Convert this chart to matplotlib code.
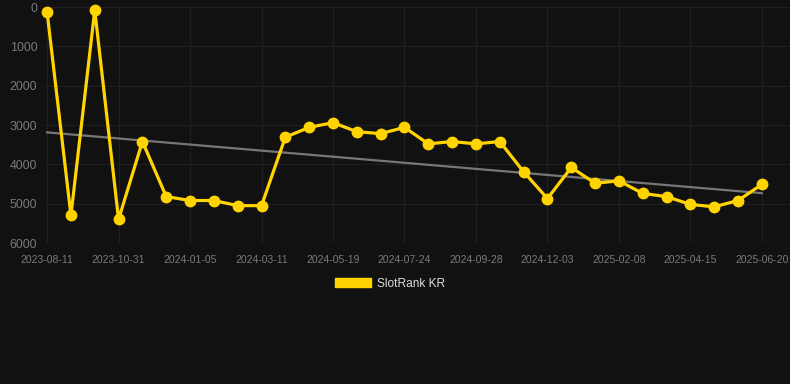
import matplotlib
matplotlib.use("Agg")
from matplotlib import pyplot as plt
from matplotlib.patches import Patch
import numpy as np

plt.rcParams['font.family'] = ['Liberation Sans', 'DejaVu Sans']

# rank per sample (smaller = better, axis inverted)
ranks = [130, 5300, 80, 5400, 3420, 4820, 4920, 4920, 5050, 5050,
         3310, 3060, 2940, 3170, 3220, 3060, 3480, 3420, 3480, 3420,
         4190, 4870, 4080, 4480, 4420, 4740, 4820, 5020, 5080, 4920, 4510]
tick_labels = ['2023-08-11', '2023-10-31', '2024-01-05', '2024-03-11',
               '2024-05-19', '2024-07-24', '2024-09-28', '2024-12-03',
               '2025-02-08', '2025-04-15', '2025-06-20']
y_ticks = [0, 1000, 2000, 3000, 4000, 5000, 6000]

bg = '#111111'
gold = '#FFD400'
grid = '#1f1f1f'

x = np.arange(len(ranks))
slope, icpt = np.polyfit(x, ranks, 1)

fig = plt.figure(figsize=(7.9, 3.84), dpi=100, facecolor=bg)
ax = fig.add_axes([44 / 790, 1 - 243 / 384, 746 / 790, 236 / 384])
ax.set_facecolor(bg)

ax.plot(x, slope * x + icpt, color='#777777', lw=1.6, zorder=2)
ax.plot(x, ranks, color=gold, lw=2.3, marker='o', ms=7.5,
        solid_joinstyle='miter', clip_on=False, zorder=3)

ax.set_xlim(-0.13, 31.18)
ax.set_ylim(6000, 0)
ax.set_xticks(x[::3])
ax.set_xticklabels(tick_labels)
ax.set_yticks(y_ticks)
ax.grid(True, color=grid, lw=0.9)
for s in ax.spines.values():
    s.set_visible(False)
ax.tick_params(axis='x', labelcolor='#7a7a7a', labelsize=7.5,
               length=0, pad=8.5)
ax.tick_params(axis='y', labelcolor='#7a7a7a', labelsize=8.9,
               length=0, pad=4.8)

fig.legend(handles=[Patch(facecolor=gold, edgecolor=gold, label='SlotRank KR')],
           loc='center', bbox_to_anchor=(390 / 790, 1 - 284 / 384),
           frameon=False, handlelength=3.0, handleheight=0.8,
           handletextpad=0.5, fontsize=8.6, labelcolor='#dddddd')

plt.savefig("out.png", facecolor=bg)
